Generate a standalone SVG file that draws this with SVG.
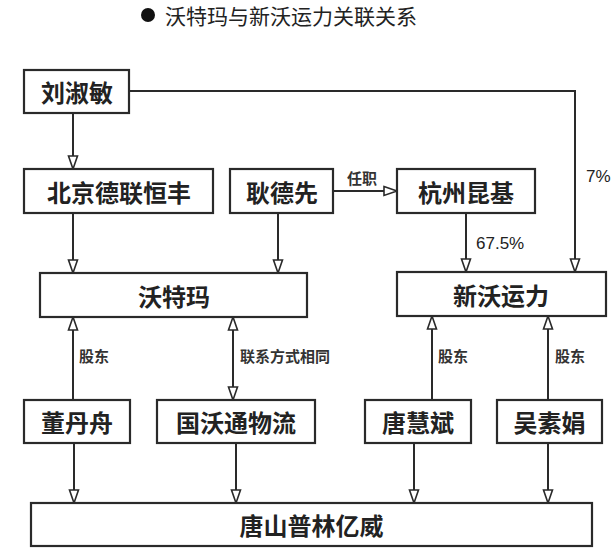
<svg xmlns="http://www.w3.org/2000/svg" width="611" height="549" viewBox="0 0 611 549">
<style>
.box{fill:#fff;stroke:#2a2a2a;stroke-width:2.2}
.nt{font-family:"Noto Sans CJK SC","Noto Sans CJK TC",sans-serif;font-weight:bold;font-size:24px;fill:#222;text-anchor:middle;dominant-baseline:central}
.lb{font-family:"Noto Sans CJK SC",sans-serif;font-weight:bold;font-size:15px;fill:#333;dominant-baseline:central}
.num{font-family:"Liberation Sans","Noto Sans",sans-serif;font-size:17px;fill:#222;dominant-baseline:central}
.ln{fill:none;stroke:#2a2a2a;stroke-width:2}
</style>
<defs>
<marker id="ah" viewBox="-1 -1 15 12" refX="13" refY="5" markerWidth="15" markerHeight="12" markerUnits="userSpaceOnUse" orient="auto-start-reverse">
<path d="M0,0.5 L13,5 L0,9.5 z" fill="#fff" stroke="#2a2a2a" stroke-width="1.6"/>
</marker>
</defs>
<rect width="611" height="549" fill="#fff"/>
<g id="title">
<circle cx="148" cy="15" r="7" fill="#111"/>
<text x="165" y="15" font-family="Noto Sans CJK SC, sans-serif" font-size="21" fill="#222" dominant-baseline="central">沃特玛与新沃运力关联关系</text>
</g>
<g id="connectors">
<line class="ln" x1="73" y1="113" x2="73" y2="169" marker-end="url(#ah)"/>
<line class="ln" x1="73" y1="213" x2="73" y2="273" marker-end="url(#ah)"/>
<line class="ln" x1="278" y1="213" x2="278" y2="273" marker-end="url(#ah)"/>
<line class="ln" x1="333" y1="191" x2="397" y2="191" marker-end="url(#ah)"/>
<line class="ln" x1="466" y1="213" x2="466" y2="272" marker-end="url(#ah)"/>
<path class="ln" d="M129,91 H575 V272" marker-end="url(#ah)"/>
<line class="ln" x1="73" y1="400" x2="73" y2="317" marker-end="url(#ah)"/>
<line class="ln" x1="233" y1="400" x2="233" y2="317" marker-start="url(#ah)" marker-end="url(#ah)"/>
<line class="ln" x1="432" y1="400" x2="432" y2="316" marker-end="url(#ah)"/>
<line class="ln" x1="548" y1="400" x2="548" y2="316" marker-end="url(#ah)"/>
<line class="ln" x1="74" y1="443" x2="74" y2="503" marker-end="url(#ah)"/>
<line class="ln" x1="236" y1="443" x2="236" y2="503" marker-end="url(#ah)"/>
<line class="ln" x1="414" y1="443" x2="414" y2="503" marker-end="url(#ah)"/>
<line class="ln" x1="548" y1="443" x2="548" y2="503" marker-end="url(#ah)"/>
<text class="lb" x="347" y="177" font-size="14">任职</text>
<text class="num" x="586" y="176">7%</text>
<text class="num" x="476" y="243">67.5%</text>
<text class="lb" x="79" y="355">股东</text>
<text class="lb" x="240" y="355">联系方式相同</text>
<text class="lb" x="438" y="355">股东</text>
<text class="lb" x="555" y="355">股东</text>
</g>
<g id="n-liushumin"><rect class="box" x="24" y="70" width="105" height="43"/><text class="nt" x="77" y="91.5">刘淑敏</text></g>
<g id="n-beijing"><rect class="box" x="24" y="169" width="189" height="44"/><text class="nt" x="119" y="191">北京德联恒丰</text></g>
<g id="n-gengdexian"><rect class="box" x="230" y="169" width="103" height="44"/><text class="nt" x="282" y="191">耿德先</text></g>
<g id="n-hangzhou"><rect class="box" x="397" y="169" width="138" height="44"/><text class="nt" x="466" y="191">杭州昆基</text></g>
<g id="n-wotema"><rect class="box" x="40" y="273" width="267" height="44"/><text class="nt" x="174" y="295">沃特玛</text></g>
<g id="n-xinwo"><rect class="box" x="397" y="272" width="209" height="44"/><text class="nt" x="501" y="294">新沃运力</text></g>
<g id="n-dongdanzhou"><rect class="box" x="24" y="400" width="106" height="43"/><text class="nt" x="77" y="421.5">董丹舟</text></g>
<g id="n-guowo"><rect class="box" x="157" y="400" width="158" height="43"/><text class="nt" x="236" y="421.5">国沃通物流</text></g>
<g id="n-tanghuibin"><rect class="box" x="365" y="400" width="106" height="43"/><text class="nt" x="418" y="421.5">唐慧斌</text></g>
<g id="n-wusujuan"><rect class="box" x="497" y="400" width="105" height="43"/><text class="nt" x="549.5" y="421.5">吴素娟</text></g>
<g id="n-tangshan"><rect class="box" x="31" y="503" width="561" height="43"/><text class="nt" x="311.5" y="524.5">唐山普林亿威</text></g>
</svg>
